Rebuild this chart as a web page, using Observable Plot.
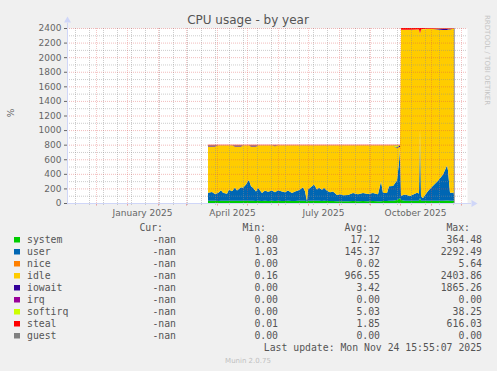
<!DOCTYPE html>
<html><head><meta charset="utf-8">
<script src="https://cdn.jsdelivr.net/npm/d3@7"></script>
<script src="https://cdn.jsdelivr.net/npm/@observablehq/plot@0.6"></script>
<style>
html,body{margin:0;padding:0;background:#f0f0f0;}
#wrap{position:relative;width:497px;height:371px;overflow:hidden;background:#f0f0f0;}
#wrap svg{position:absolute;left:0;top:0;}
#chart svg{overflow:visible;}
</style></head>
<body>
<div id="wrap"><div id="chart"></div><svg id="txt" width="497" height="371"></svg></div>
<script>
// ---- data ----
const dates = [
 "2025-03-23","2025-03-27","2025-03-30","2025-04-02","2025-04-05","2025-04-07","2025-04-11","2025-04-13","2025-04-16","2025-04-19",
 "2025-04-21","2025-04-25","2025-04-27","2025-04-30","2025-05-02","2025-05-03","2025-05-05","2025-05-07","2025-05-10","2025-05-12",
 "2025-05-16","2025-05-19","2025-05-22","2025-05-26","2025-05-29","2025-06-01","2025-06-05","2025-06-08","2025-06-11","2025-06-15",
 "2025-06-18","2025-06-21","2025-06-23","2025-06-26","2025-06-28","2025-06-30","2025-07-01","2025-07-05","2025-07-07","2025-07-10",
 "2025-07-12","2025-07-15","2025-07-17","2025-07-20","2025-07-23","2025-07-26","2025-07-30","2025-08-02","2025-08-05","2025-08-10",
 "2025-08-15","2025-08-20","2025-08-25","2025-08-30","2025-09-04","2025-09-09","2025-09-12","2025-09-14","2025-09-18","2025-09-20",
 "2025-09-24","2025-09-28","2025-09-30","2025-10-01",
 "2025-10-02","2025-10-06","2025-10-11","2025-10-18","2025-10-20","2025-10-21","2025-10-22","2025-10-24","2025-10-29","2025-11-03",
 "2025-11-08","2025-11-13","2025-11-17","2025-11-18","2025-11-20","2025-11-23","2025-11-24"];
const system = [
 30,32,30,28,30,30,32,30,30,32, 30,32,30,30,32,32,30,30,28,30,
 28,30,28,30,28,30,28,28,30,28, 28,30,30,30,30,20,30,30,30,30,
 30,28,30,28,28,28,25,25,25,25, 28,25,28,25,28,25,25,28,28,30,
 32,40,60,70,
 40,30,30,30,30,70,30,30,30,30, 30,30,35,35,30,30,30];
const user = [
 110,120,95,110,145,110,95,155,130,180, 140,185,180,225,270,280,200,180,130,180,
 110,140,125,140,120,145,130,120,140,110, 130,140,155,185,130,5,155,200,225,155,
 180,155,180,140,120,130,85,95,80,85, 110,95,110,100,110,95,270,110,110,200,
 200,270,500,680,
 60,85,65,110,100,950,60,40,135,205, 275,360,480,410,110,110,100];
const idle = [
 634,622,649,651,614,649,662,604,629,562, 604,557,579,534,487,477,544,564,616,579,
 651,619,636,619,631,614,631,641,619,651, 631,619,604,574,629,764,604,559,534,604,
 579,606,579,621,641,631,679,669,684,679, 651,669,651,664,651,669,494,651,651,559,
 557,442,207,19,
 2272,2257,2277,2237,2247,1297,2287,2312,2222,2152, 2074,1984,1859,1934,2239,2249,2259];
const iowait = [
 15,15,15,0,0,0,0,0,0,15, 15,15,0,0,0,0,15,15,15,0,
 0,0,0,0,10,0,0,0,0,0, 0,0,0,0,0,0,0,0,0,0,
 0,0,0,0,0,0,0,0,0,0, 0,0,0,0,0,0,0,0,0,0,
 0,10,15,20,
 0,0,0,0,0,0,0,0,0,0, 10,15,15,10,10,0,0];
const softirq = [
 3,3,3,3,3,3,3,3,3,3, 3,3,3,3,3,3,3,3,3,3,
 3,3,3,3,3,3,3,3,3,3, 3,3,3,3,3,3,3,3,3,3,
 3,3,3,3,3,3,3,3,3,3, 3,3,3,3,3,3,3,3,3,3,
 3,30,10,3,
 3,3,3,3,3,3,3,3,3,3, 3,3,3,3,3,3,3];
const steal = [
 8,8,8,8,8,8,8,8,8,8, 8,8,8,8,8,8,8,8,8,8,
 8,8,8,8,8,8,8,8,8,8, 8,8,8,8,8,8,8,8,8,8,
 8,8,8,8,8,8,8,8,8,8, 8,8,8,8,8,8,8,8,8,8,
 8,8,8,8,
 25,25,25,20,20,80,20,15,10,10, 8,8,8,8,8,8,8];

const names  = ["system","user","nice","idle","iowait","irq","softirq","steal","guest"];
const colors = ["#00CC00","#0066B3","#FF8000","#FFCC00","#330099","#990099","#CCFF00","#FF0000","#808080"];
const curVals = ["-nan","-nan","-nan","-nan","-nan","-nan","-nan","-nan","-nan"];
const minVals = ["0.80","1.03","0.00","0.16","0.00","0.00","0.00","0.01","0.00"];
const avgVals = ["17.12","145.37","0.02","966.55","3.42","0.00","5.03","1.85","0.00"];
const maxVals = ["364.48","2292.49","5.64","2403.86","1865.26","0.00","38.25","616.03","0.00"];
const yTicks = [0,200,400,600,800,1000,1200,1400,1600,1800,2000,2200,2400];
const xLabelDates = ["2025-01-16","2025-04-16","2025-07-16","2025-10-16"];
const titleText = "CPU usage - by year";
const lastUpdate = "Last update: Mon Nov 24 15:55:07 2025";

// ---- build ----
const series = {system, user, idle, iowait, softirq, steal};
const long = [];
dates.forEach((d, i) => {
  const dt = new Date(d + "T00:00:00Z");
  for (const k of Object.keys(series)) long.push({date: dt, key: k, value: series[k][i]});
});
const x0 = new Date("2024-11-02T00:00:00Z"), x1 = new Date("2025-12-07T00:00:00Z");
const day = 864e5;
const majorX = d3.utcMonth.range(x0, x1);
const minorX = d3.utcSunday.range(x0, x1).filter((d, i) => i % 2 === 1);
const majorY = yTicks;
const minorY = d3.range(100, 2400, 200);
const axisCol = "#CFD6F8";
const lastDate = new Date(dates[dates.length - 1] + "T00:00:00Z");

const chart = Plot.plot({
  width: 497, height: 225,
  marginLeft: 67, marginRight: 30, marginTop: 28, marginBottom: 22,
  style: {background: "transparent", fontFamily: "DejaVu Sans, sans-serif", fontSize: "9px", color: "#666666", overflow: "visible"},
  x: {type: "utc", domain: [x0, x1]},
  y: {domain: [0, 2400]},
  color: {domain: names, range: colors},
  marks: [
    Plot.frame({fill: "white", stroke: "none"}),
    Plot.areaY(long, {x: "date", y: "value", z: "key", fill: "key", order: names}),
    Plot.ruleX([lastDate], {y1: 0, y2: 2400, stroke: "#aaaaaa"}),
    Plot.ruleX(minorX, {stroke: "#8f8f8f", strokeOpacity: 0.45, strokeDasharray: "1,1"}),
    Plot.ruleY(minorY, {stroke: "#8f8f8f", strokeOpacity: 0.45, strokeDasharray: "1,1"}),
    Plot.ruleX(majorX, {stroke: "#DE5050", strokeOpacity: 0.32, strokeDasharray: "1,1"}),
    Plot.ruleY(majorY.filter(v => v > 0), {stroke: "#DE5050", strokeOpacity: 0.38, strokeDasharray: "1,1"}),
    Plot.ruleX(majorX, {y1: 0, y2: -35, stroke: "#DE5050", strokeOpacity: 0.5}),
    Plot.ruleX(minorX, {y1: 0, y2: -25, stroke: "#8f8f8f", strokeOpacity: 0.5}),
    Plot.ruleY([0], {x1: new Date(+x0 - 3 * day), x2: new Date(+x1 + 4 * day), stroke: axisCol}),
    Plot.ruleX([x0], {y1: -20, y2: 2470, stroke: axisCol}),
    Plot.dot([x1], {x: d => new Date(+d + 6 * day), y: 0, symbol: "triangle", r: 2.6, rotate: 90, fill: axisCol, stroke: "none"}),
    Plot.dot([x0], {x: d => d, y: 2510, symbol: "triangle", r: 2.6, fill: axisCol, stroke: "none"}),
    Plot.axisY({ticks: yTicks, tickSize: 3, tickPadding: 3, label: null, tickFormat: d => String(d), stroke: "#666666"}),
    Plot.axisX({ticks: xLabelDates.map(d => new Date(d + "T00:00:00Z")), tickSize: 0, tickPadding: 6, label: null, tickFormat: d3.utcFormat("%B %Y")})
  ]
});
document.getElementById("chart").appendChild(chart);

// ---- text (title, labels, legend) ----
const svg = d3.select("#txt");
const sans = "DejaVu Sans, sans-serif", mono = "DejaVu Sans Mono, monospace";
svg.append("text").attr("x", 248).attr("y", 23.5).attr("text-anchor", "middle")
  .attr("font-family", sans).attr("font-size", 12).attr("fill", "#555").text(titleText);
svg.append("text").attr("transform", "translate(13.5,113) rotate(-90)").attr("text-anchor", "middle")
  .attr("font-family", sans).attr("font-size", 9).attr("fill", "#666").text("%");
svg.append("text").attr("transform", "translate(484.5,15) rotate(90)").attr("text-anchor", "start")
  .attr("font-family", sans).attr("font-size", 7).attr("fill", "#c4c4c4").text("RRDTOOL / TOBI OETIKER");

const fs = 9.8, col = "#555";
const hdr = [["Cur:", 163], ["Min:", 266], ["Avg:", 368], ["Max:", 470]];
hdr.forEach(([t, xr]) => svg.append("text").attr("x", xr).attr("y", 230.8).attr("text-anchor", "end")
  .attr("font-family", mono).attr("font-size", fs).attr("fill", col).text(t));
names.forEach((n, i) => {
  const by = 243.3 + i * 12;
  svg.append("rect").attr("x", 14).attr("y", by - 6.3).attr("width", 6).attr("height", 5.5).attr("fill", colors[i]);
  svg.append("text").attr("x", 27).attr("y", by).attr("font-family", mono).attr("font-size", fs).attr("fill", col).text(n);
  [[curVals, 176], [minVals, 278], [avgVals, 380], [maxVals, 482]].forEach(([arr, xr]) =>
    svg.append("text").attr("x", xr).attr("y", by).attr("text-anchor", "end")
      .attr("font-family", mono).attr("font-size", fs).attr("fill", col).text(arr[i]));
});
svg.append("text").attr("x", 482).attr("y", 351).attr("text-anchor", "end")
  .attr("font-family", mono).attr("font-size", fs).attr("fill", col).text(lastUpdate);
svg.append("text").attr("x", 248).attr("y", 362.5).attr("text-anchor", "middle")
  .attr("font-family", sans).attr("font-size", 7).attr("fill", "#c0c0c0").text("Munin 2.0.75");
</script>
</body></html>
